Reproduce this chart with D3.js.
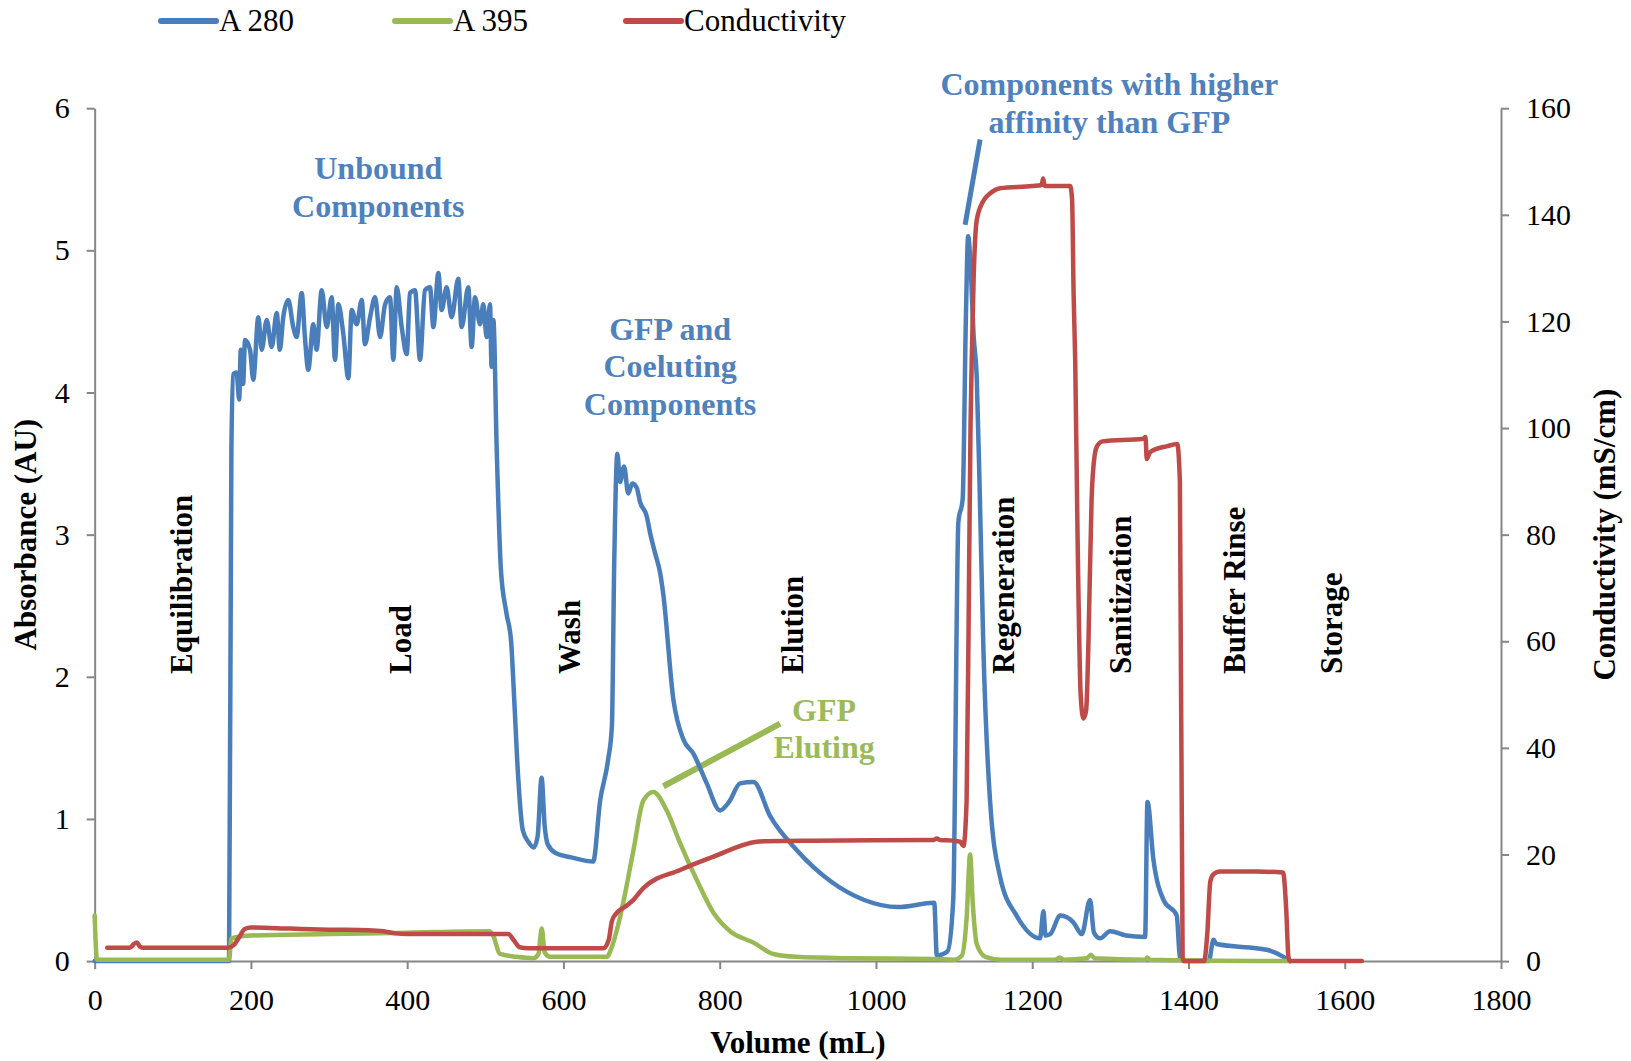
<!DOCTYPE html>
<html>
<head>
<meta charset="utf-8">
<script src="https://cdn.jsdelivr.net/npm/d3@7"></script>
<style>
  body { margin: 0; background: #fff; }
  svg text { font-family: "Liberation Serif", "Times New Roman", serif; }
</style>
</head>
<body>
<div id="chart"></div>
<script>
// ---- data ----
const volTicks = [0, 200, 400, 600, 800, 1000, 1200, 1400, 1600, 1800];
const absTicks = [0, 1, 2, 3, 4, 5, 6];
const condTicks = [0, 20, 40, 60, 80, 100, 120, 140, 160];

const seriesNames = ["A 280", "A 395", "Conductivity"];

// A 280 (AU)
const a280Vol = [0, 172, 175, 177.5, 181.6, 185, 187, 190, 192.5, 198.9, 203, 209.5, 213.8, 220.2, 226.6, 233, 237, 241.4, 247.8, 254.2,
  258.5, 265, 269.1, 273.4, 279.8, 284, 290.6, 297, 303.4, 307.6, 311.9, 318.3, 324.7, 329, 335.4, 341.8, 346, 352.5, 358.9, 365.3,
  371.7, 378, 382.3, 386.6, 393, 399.4, 403.6, 410, 416.4, 422.8, 429.2, 433.5, 439.9, 444.1, 450.5, 456.9, 465.4, 469.7, 478.2, 482.5,
  486.8, 493.2, 497.4, 501.7, 506, 508, 510.3, 514.6, 520, 527, 533, 537, 542, 548, 555, 562, 567, 572, 576, 580,
  590, 610, 638, 647, 657, 662, 665, 669, 672.5, 677.6, 683, 688, 693.8, 698, 706.6, 711, 717.3, 723.8, 727.6, 740.7,
  753.5, 766.3, 783.4, 800.5, 812, 826.1, 843.2, 864.6, 898.7, 942.4, 985, 1027.7, 1074.6, 1077.9, 1091.7, 1098.9, 1105.5, 1111, 1115, 1118,
  1121, 1125, 1129, 1133, 1137.5, 1146, 1159, 1180, 1210, 1214.4, 1217, 1223, 1236, 1253, 1263.4, 1274, 1279, 1287, 1299.7, 1320,
  1344.5, 1347.5, 1355, 1368, 1385, 1389, 1395, 1426, 1432, 1436, 1500, 1521.6, 1530];
const a280Abs = [0, 0, 3.6, 4.13, 4.14, 3.95, 4.30, 4.06, 4.37, 4.30, 4.09, 4.53, 4.30, 4.51, 4.32, 4.56, 4.30, 4.53, 4.65, 4.46,
  4.39, 4.70, 4.39, 4.16, 4.48, 4.30, 4.72, 4.46, 4.67, 4.23, 4.62, 4.41, 4.10, 4.58, 4.48, 4.65, 4.34, 4.53, 4.67, 4.39,
  4.62, 4.67, 4.23, 4.74, 4.46, 4.27, 4.70, 4.72, 4.23, 4.72, 4.74, 4.46, 4.84, 4.58, 4.74, 4.53, 4.80, 4.46, 4.74, 4.32,
  4.67, 4.48, 4.62, 4.39, 4.62, 4.18, 4.51, 3.6, 2.75, 2.45, 2.25, 1.84, 1.3, 0.92, 0.84, 0.80, 0.88, 1.29, 0.95, 0.82,
  0.76, 0.73, 0.70, 1.13, 1.41, 1.65, 2.8, 3.57, 3.37, 3.48, 3.29, 3.36, 3.33, 3.23, 3.13, 3.01, 2.87, 2.73, 2.59, 1.84,
  1.56, 1.46, 1.25, 1.06, 1.12, 1.25, 1.26, 1.02, 0.78, 0.56, 0.43, 0.38, 0.41, 0.04, 0.07, 0.43, 3.09, 3.25, 4.5, 5.10,
  4.9, 4.4, 4.1, 3.26, 2.2, 1.13, 0.59, 0.32, 0.16, 0.35, 0.18, 0.19, 0.32, 0.27, 0.19, 0.43, 0.2, 0.16, 0.21, 0.18,
  0.17, 1.12, 0.72, 0.43, 0.32, 0.03, 0, 0, 0.15, 0.12, 0.08, 0.03, 0];

// A 395 (AU)
const a395Vol = [0, 3, 172, 175, 200, 300, 400, 505, 510, 518.8, 540, 561.5, 568, 572.2, 576, 582.9, 655.4, 662, 672.5, 689.6,
  702.3, 715.1, 732.2, 749.3, 770.7, 792, 813.3, 843.2, 868.8, 898, 962, 1075, 1100, 1110, 1116, 1120.5, 1124, 1129, 1140, 1160,
  1230, 1235, 1240, 1270, 1275, 1280, 1345, 1347, 1350, 1530];
const a395Abs = [0.32, 0.01, 0.01, 0.16, 0.18, 0.19, 0.2, 0.21, 0.18, 0.05, 0.03, 0.02, 0.05, 0.23, 0.06, 0.03, 0.03, 0.1, 0.31, 0.78,
  1.13, 1.19, 1.06, 0.83, 0.57, 0.34, 0.21, 0.13, 0.05, 0.03, 0.02, 0.015, 0.01, 0.04, 0.3, 0.75, 0.4, 0.12, 0.03, 0.01,
  0.01, 0.025, 0.01, 0.02, 0.045, 0.02, 0.01, 0.025, 0.01, 0];

// Conductivity (mS/cm)
const condVol = [16, 45, 50, 54, 58, 62, 170, 178, 185, 192, 200, 250, 300, 350, 370, 385, 400, 500, 529.5, 536,
  544, 555, 651, 658, 662, 668, 680, 689.6, 702.3, 749.3, 792, 847.4, 860, 920, 1073, 1078, 1082, 1099, 1107.7, 1112,
  1116, 1119, 1121, 1122.6, 1125, 1129, 1137, 1146, 1159, 1200, 1212, 1214, 1216, 1248.5, 1251, 1253, 1255, 1258, 1262, 1265.5,
  1269, 1272, 1276, 1280, 1283, 1290, 1342, 1345, 1346.6, 1351, 1372.8, 1385.6, 1389, 1392.5, 1394, 1420, 1424, 1428, 1432, 1440,
  1487, 1521, 1525, 1528, 1530, 1622];
const condVal = [2.5, 2.5, 3.2, 3.5, 2.7, 2.5, 2.5, 3.0, 4.5, 6.0, 6.3, 6.1, 5.9, 5.8, 5.6, 5.2, 5.1, 5.1, 5.1, 4.0,
  2.6, 2.4, 2.4, 4.0, 7.5, 9.0, 10.3, 11.5, 13.7, 17.1, 19.6, 22.4, 22.5, 22.6, 22.7, 23.0, 22.7, 22.6, 22.4, 21.6,
  30, 70, 100, 112.8, 128, 139, 142.5, 144, 145, 145.4, 145.6, 146.8, 145.4, 145.4, 143, 125, 112.8, 80, 50, 45.5,
  47, 60, 86.7, 95, 96.6, 97.5, 98, 98.3, 94.2, 95.5, 96.6, 97, 90, 0.7, 0, 0, 5, 15, 16.3, 16.8,
  16.8, 16.6, 10, 0.7, 0, 0];

// phases of the run, vertical labels
const phaseNames = ["Equilibration", "Load", "Wash", "Elution", "Regeneration", "Sanitization", "Buffer Rinse", "Storage"];
const phaseVol = [112, 391.5, 608.5, 893.5, 1164, 1313, 1459.6, 1583.5];

// ---- layout ----
const width = 1631;
const height = 1061;
const margin = {top: 108.2, right: 130, bottom: 99.9, left: 94.66};
const colors = {a280: "#4A7EBB", a395: "#98B954", cond: "#BE4B48"};
const axisColor = "#868686";
const serif = '"Liberation Serif", "Times New Roman", serif';

const xScale = d3.scaleLinear()
    .domain([0, 1800])
    .range([margin.left, width - margin.right]);

const yScale = d3.scaleLinear()
    .domain([0, 6])
    .range([height - margin.bottom, margin.top]);

const y2Scale = d3.scaleLinear()
    .domain([0, 160])
    .range([height - margin.bottom, margin.top]);

let svg = d3.select("#chart")
    .append("svg")
    .attr("width", width)
    .attr("height", height);

// axes
const xAxis = svg.append("g")
    .attr("class", "axis")
    .attr("transform", `translate(0,${height - margin.bottom})`)
    .call(d3.axisBottom(xScale).tickValues(volTicks).tickFormat(d => d)
        .tickSize(8).tickPadding(20).tickSizeOuter(0));

const yAxis = svg.append("g")
    .attr("class", "axis")
    .attr("transform", `translate(${margin.left},0)`)
    .call(d3.axisLeft(yScale).tickValues(absTicks).tickFormat(d => d)
        .tickSize(8).tickPadding(17).tickSizeOuter(0));

const y2Axis = svg.append("g")
    .attr("class", "axis")
    .attr("transform", `translate(${width - margin.right},0)`)
    .call(d3.axisRight(y2Scale).tickValues(condTicks).tickFormat(d => d)
        .tickSize(8).tickPadding(17).tickSizeOuter(0));

svg.selectAll(".axis")
    .attr("font-family", null)
    .style("font-family", serif);
svg.selectAll(".axis path, .axis line")
    .attr("stroke", axisColor)
    .attr("stroke-width", 2);
svg.selectAll(".axis text")
    .attr("fill", "#000")
    .attr("font-size", 30)
    .style("font-family", serif);

// axis titles
svg.append("text")
    .attr("x", (margin.left + width - margin.right) / 2)
    .attr("y", 1053)
    .attr("text-anchor", "middle")
    .attr("font-size", 31)
    .attr("font-weight", "bold")
    .text("Volume (mL)");

svg.append("text")
    .attr("transform", `translate(26,${(margin.top + height - margin.bottom) / 2}) rotate(-90)`)
    .attr("dy", "0.33em")
    .attr("text-anchor", "middle")
    .attr("font-size", 31)
    .attr("font-weight", "bold")
    .text("Absorbance (AU)");

svg.append("text")
    .attr("transform", `translate(1605,${(margin.top + height - margin.bottom) / 2}) rotate(-90)`)
    .attr("dy", "0.33em")
    .attr("text-anchor", "middle")
    .attr("font-size", 31)
    .attr("font-weight", "bold")
    .text("Conductivity (mS/cm)");

// phase labels
svg.selectAll(".phase")
    .data(phaseNames)
    .enter()
    .append("text")
    .attr("class", "phase")
    .attr("transform", (d, i) => `translate(${xScale(phaseVol[i])},${yScale(2.02)}) rotate(-90)`)
    .attr("dy", "0.33em")
    .attr("font-size", 31)
    .attr("font-weight", "bold")
    .text(d => d);

// annotations (positions in data units)
const notes = [
    {lines: ["Unbound", "Components"], vol: 363, abs: 5.50, color: "#4F81BD"},
    {lines: ["GFP and", "Coeluting", "Components"], vol: 736.5, abs: 4.37, color: "#4F81BD"},
    {lines: ["Components with higher", "affinity than GFP"], vol: 1298.7, abs: 6.09, color: "#4F81BD"},
    {lines: ["GFP", "Eluting"], vol: 933.6, abs: 1.69, color: "#9BBB59"}
];

notes.forEach(function(n) {
    let t = svg.append("text")
        .attr("x", xScale(n.vol))
        .attr("y", yScale(n.abs))
        .attr("text-anchor", "middle")
        .attr("font-size", 32)
        .attr("font-weight", "bold")
        .attr("fill", n.color);
    n.lines.forEach(function(l, i) {
        t.append("tspan")
            .attr("x", xScale(n.vol))
            .attr("dy", i === 0 ? 0 : 37.3)
            .text(l);
    });
});

// leader lines
const leaders = [
    {pts: [[1114.1, 5.18], [1133.3, 5.78]], color: colors.a280, w: 5},
    {pts: [[727.9, 1.23], [877.3, 1.67]], color: colors.a395, w: 6}
];
leaders.forEach(function(l) {
    svg.append("line")
        .attr("x1", xScale(l.pts[0][0]))
        .attr("y1", yScale(l.pts[0][1]))
        .attr("x2", xScale(l.pts[1][0]))
        .attr("y2", yScale(l.pts[1][1]))
        .attr("stroke", l.color)
        .attr("stroke-width", l.w);
});

// series
function drawSeries(xs, ys, scale, color) {
    const line = d3.line()
        .x(d => xScale(d[0]))
        .y(d => scale(d[1]))
        .curve(d3.curveMonotoneX);

    svg.append("path")
        .datum(xs.map((v, i) => [v, ys[i]]))
        .attr("d", line)
        .attr("fill", "none")
        .attr("stroke", color)
        .attr("stroke-width", 4.5)
        .attr("stroke-linejoin", "round")
        .attr("stroke-linecap", "round");
}

drawSeries(a280Vol, a280Abs, yScale, colors.a280);
drawSeries(a395Vol, a395Abs, yScale, colors.a395);
drawSeries(condVol, condVal, y2Scale, colors.cond);

// legend
const legendX = [161, 395, 626];
const legendColors = [colors.a280, colors.a395, colors.cond];
const legend = svg.selectAll(".legend")
    .data(seriesNames)
    .enter()
    .append("g")
    .attr("class", "legend")
    .attr("transform", (d, i) => `translate(${legendX[i]},21)`);

legend.append("line")
    .attr("x1", 0)
    .attr("x2", 55)
    .attr("stroke", (d, i) => legendColors[i])
    .attr("stroke-width", 6)
    .attr("stroke-linecap", "round");

legend.append("text")
    .attr("x", 58)
    .attr("dy", "0.33em")
    .attr("font-size", 31)
    .text(d => d);
</script>
</body>
</html>
